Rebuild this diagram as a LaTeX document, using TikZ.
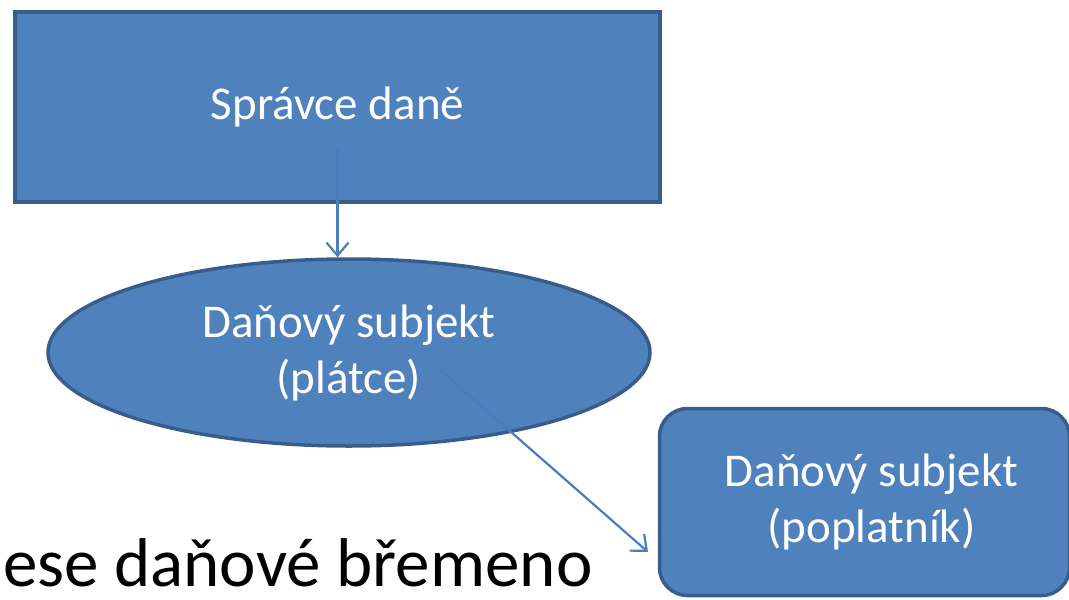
\documentclass[tikz,border=0pt]{standalone}
\usepackage{fontspec}
\setmainfont{Carlito}
\usetikzlibrary{arrows.meta,shapes.geometric}
\definecolor{boxfill}{HTML}{4F81BD}
\definecolor{boxline}{HTML}{385D8A}
\definecolor{arrowcol}{HTML}{4A7EBB}
\tikzset{
  shapebox/.style={fill=boxfill, draw=boxline, line width=3.5pt, text=white,
    align=center, font=\fontsize{47}{56}\selectfont, inner sep=0pt},
  conn/.style={draw=arrowcol, line width=2.2pt, -{Straight Barb[length=13pt,width=22pt,line width=2.2pt]}}
}
\begin{document}
\begin{tikzpicture}[x=1pt,y=-1pt]
\useasboundingbox (0,0) rectangle (1069,600);
\node[shapebox, rectangle, minimum width=645pt, minimum height=190pt] (spravce) at (337.5,107) {Správce daně};
\node[shapebox, ellipse, minimum width=602pt, minimum height=187pt] (platce) at (349,352.5) {Daňový subjekt\\(plátce)};
\node[shapebox, rectangle, rounded corners=28pt, minimum width=410pt, minimum height=187pt] (poplatnik) at (864.5,502) {\hspace*{14pt}Daňový subjekt\\\hspace*{14pt}(poplatník)};
\node[anchor=base west, inner sep=0pt, text depth=0pt, font=\fontsize{69}{72}\selectfont] (bremeno) at (3,586) {ese daňové břemeno};
\coordinate (s1) at (337.5,147);
\coordinate (s2) at (438,368);
\coordinate (e2) at (648,552);
\draw[conn] (s1) -- (s1 |- platce.north);
\draw[conn] (s2) -- (e2);
\end{tikzpicture}
\end{document}
